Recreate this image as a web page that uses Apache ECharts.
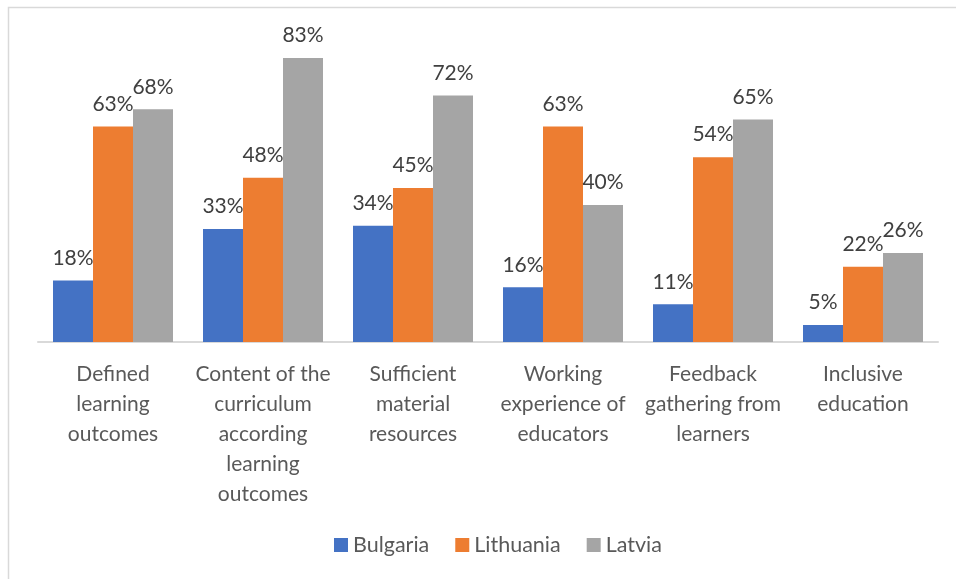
<!DOCTYPE html>
<html>
<head>
<meta charset="utf-8">
<title>Chart</title>
<script src="https://cdn.jsdelivr.net/npm/echarts@6/dist/echarts.min.js"></script>
<style>
	html, body { margin: 0; padding: 0; background: #fff; }
	#chart { width: 956px; height: 579px; }
</style>
</head>
<body>
<div id="chart"></div>
<script>
const categories = [
	'Defined\nlearning\noutcomes',
	'Content of the\ncurriculum\naccording\nlearning\noutcomes',
	'Sufficient\nmaterial\nresources',
	'Working\nexperience of\neducators',
	'Feedback\ngathering from\nlearners',
	'Inclusive\neducation'
];
const bulgaria = [18, 33, 34, 16, 11, 5];
const lithuania = [63, 48, 45, 63, 54, 22];
const latvia = [68, 83, 72, 40, 65, 26];

( function() {

	const fontFamily = 'Lato, "Open Sans", sans-serif';

	const makeSeries = function( name, data, color ) {
		return {
			name: name,
			type: 'bar',
			data: data,
			itemStyle: { color: color },
			label: {
				show: true,
				position: 'top',
				distance: 12,
				formatter: '{c}%',
				fontFamily: fontFamily,
				fontSize: 21,
				color: '#404040'
			}
		};
	}

	const setupChart = function() {
		const el = document.getElementById('chart');
		const myChart = echarts.init(el);

		const option = {
			animation: false,
			textStyle: { fontFamily: fontFamily },
			graphic: [{
				type: 'rect',
				shape: { x: 8.5, y: 7.5, width: 960, height: 600 },
				style: { fill: 'none', stroke: '#d9d9d9', lineWidth: 1.5 },
				silent: true
			}],
			legend: {
				bottom: 18,
				left: 329,
				itemWidth: 14,
				itemHeight: 14,
				itemGap: 26,
				icon: 'rect',
				textStyle: { fontSize: 21.5, color: '#595959', fontFamily: fontFamily }
			},
			grid: { left: 38, right: 18, top: 34, bottom: 237 },
			xAxis: {
				type: 'category',
				data: categories,
				axisTick: { show: false },
				axisLine: { lineStyle: { color: '#d9d9d9', width: 2 } },
				axisLabel: {
					interval: 0,
					margin: 17,
					fontSize: 21,
					lineHeight: 30,
					color: '#595959',
					fontFamily: fontFamily
				}
			},
			yAxis: {
				type: 'value',
				min: 0,
				max: 90,
				show: false,
				splitLine: { show: false }
			},
			series: [
				makeSeries('Bulgaria', bulgaria, '#4472C4'),
				makeSeries('Lithuania', lithuania, '#ED7D31'),
				makeSeries('Latvia', latvia, '#A5A5A5')
			]
		};
		option.series[0].barGap = '0%';
		option.series[0].barCategoryGap = '20%';

		myChart.setOption(option);
	}

	document.addEventListener('DOMContentLoaded', function() {
		setupChart();
	});

}() );
</script>
</body>
</html>
